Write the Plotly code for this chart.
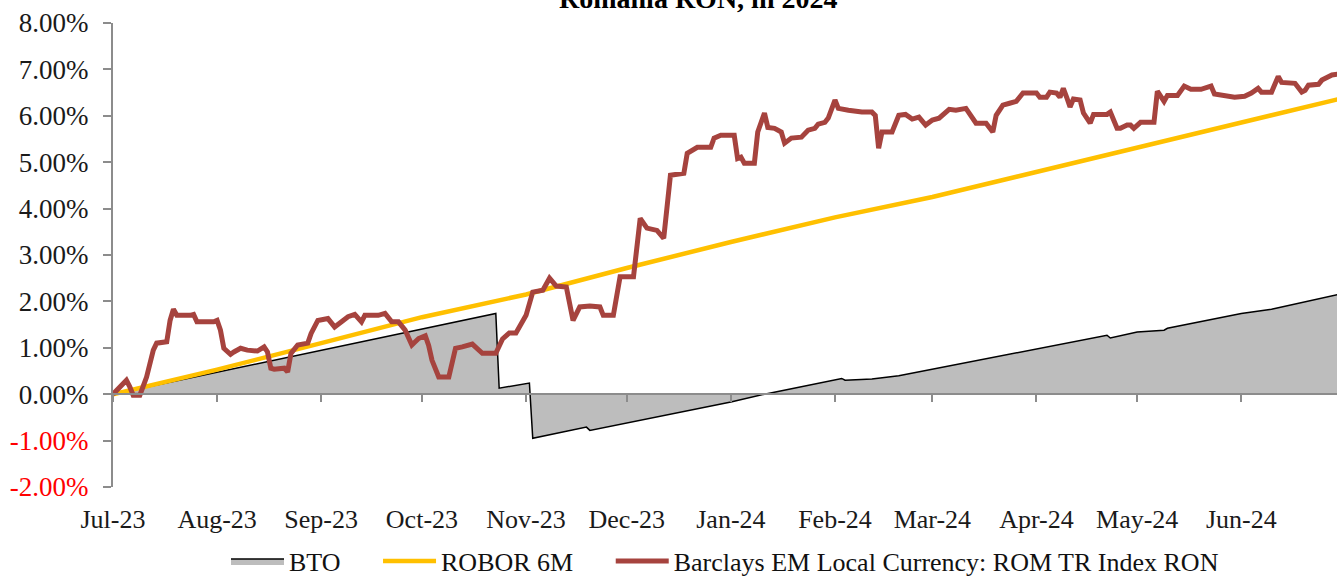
import plotly.graph_objects as go

# ---------------- data (values in %) ----------------
bto_dates = ["2023-07-01", "2023-10-23", "2023-10-24", "2023-11-02", "2023-11-03",
             "2023-11-19", "2023-11-20", "2024-01-01", "2024-01-11", "2024-02-03",
             "2024-02-04", "2024-02-12", "2024-02-20", "2024-03-01", "2024-03-17",
             "2024-04-01", "2024-04-22", "2024-04-23", "2024-05-01", "2024-05-09",
             "2024-05-10", "2024-06-01", "2024-06-10", "2024-06-30"]
bto_vals = [0.00, 1.74, 0.13, 0.24, -0.95,
            -0.71, -0.78, -0.17, 0.00, 0.34,
            0.30, 0.33, 0.40, 0.54, 0.78,
            0.99, 1.27, 1.21, 1.34, 1.38,
            1.42, 1.74, 1.83, 2.15]

robor_dates = ["2023-07-01", "2023-08-01", "2023-09-01", "2023-10-01", "2023-11-01",
               "2023-12-01", "2024-01-01", "2024-02-01", "2024-03-01", "2024-04-01",
               "2024-05-01", "2024-06-01", "2024-06-30"]
robor_vals = [0.00, 0.53, 1.10, 1.66, 2.15,
              2.72, 3.28, 3.81, 4.25, 4.79,
              5.31, 5.84, 6.36]

rom_dates = [
    "2023-07-01", "2023-07-05", "2023-07-06", "2023-07-07", "2023-07-09", "2023-07-11",
    "2023-07-13", "2023-07-14", "2023-07-17", "2023-07-18", "2023-07-19", "2023-07-20",
    "2023-07-24", "2023-07-25", "2023-07-26", "2023-07-31", "2023-08-01", "2023-08-02",
    "2023-08-03", "2023-08-05", "2023-08-06", "2023-08-08", "2023-08-10", "2023-08-13",
    "2023-08-15", "2023-08-16", "2023-08-17", "2023-08-18", "2023-08-21", "2023-08-22",
    "2023-08-23", "2023-08-25", "2023-08-28", "2023-08-29", "2023-08-31", "2023-09-03",
    "2023-09-05", "2023-09-07", "2023-09-09", "2023-09-11", "2023-09-13", "2023-09-14",
    "2023-09-18", "2023-09-20", "2023-09-22", "2023-09-24", "2023-09-26", "2023-09-28",
    "2023-09-30", "2023-10-02", "2023-10-03", "2023-10-04", "2023-10-06", "2023-10-09",
    "2023-10-11", "2023-10-13", "2023-10-16", "2023-10-19", "2023-10-23", "2023-10-25",
    "2023-10-27", "2023-10-29", "2023-11-01", "2023-11-03", "2023-11-06", "2023-11-08",
    "2023-11-10", "2023-11-13", "2023-11-15", "2023-11-17", "2023-11-20", "2023-11-23",
    "2023-11-24", "2023-11-27", "2023-11-29", "2023-12-03", "2023-12-05", "2023-12-07",
    "2023-12-09", "2023-12-10", "2023-12-12", "2023-12-14", "2023-12-18", "2023-12-19",
    "2023-12-22", "2023-12-26", "2023-12-27", "2023-12-29", "2024-01-02", "2024-01-03",
    "2024-01-04", "2024-01-05", "2024-01-08", "2024-01-09", "2024-01-11", "2024-01-12",
    "2024-01-14", "2024-01-16", "2024-01-17", "2024-01-19", "2024-01-22", "2024-01-24",
    "2024-01-26", "2024-01-27", "2024-01-29", "2024-01-30", "2024-02-01", "2024-02-02",
    "2024-02-05", "2024-02-09", "2024-02-12", "2024-02-13", "2024-02-14", "2024-02-15",
    "2024-02-18", "2024-02-20", "2024-02-22", "2024-02-24", "2024-02-26", "2024-02-28",
    "2024-03-01", "2024-03-03", "2024-03-06", "2024-03-08", "2024-03-11", "2024-03-12",
    "2024-03-14", "2024-03-17", "2024-03-19", "2024-03-20", "2024-03-22", "2024-03-24",
    "2024-03-26", "2024-03-28", "2024-03-31", "2024-04-01", "2024-04-02", "2024-04-04",
    "2024-04-05", "2024-04-07", "2024-04-08", "2024-04-09", "2024-04-10", "2024-04-11",
    "2024-04-12", "2024-04-14", "2024-04-15", "2024-04-17", "2024-04-18", "2024-04-22",
    "2024-04-23", "2024-04-25", "2024-04-26", "2024-04-28", "2024-04-29", "2024-04-30",
    "2024-05-02", "2024-05-06", "2024-05-07", "2024-05-09", "2024-05-10", "2024-05-13",
    "2024-05-15", "2024-05-17", "2024-05-20", "2024-05-23", "2024-05-24", "2024-05-28",
    "2024-05-30", "2024-06-02", "2024-06-04", "2024-06-06", "2024-06-07", "2024-06-10",
    "2024-06-12", "2024-06-13", "2024-06-17", "2024-06-19", "2024-06-20", "2024-06-21",
    "2024-06-24", "2024-06-25", "2024-06-28", "2024-06-30"]
rom_vals = [
    0.00, 0.30, 0.16, -0.02, -0.02, 0.37,
    0.95, 1.10, 1.13, 1.59, 1.83, 1.70,
    1.70, 1.72, 1.56, 1.56, 1.59, 1.38,
    0.99, 0.86, 0.91, 0.99, 0.95, 0.93,
    1.02, 0.91, 0.56, 0.54, 0.56, 0.48,
    0.88, 1.06, 1.10, 1.31, 1.59, 1.63,
    1.45, 1.56, 1.67, 1.72, 1.56, 1.70,
    1.70, 1.74, 1.56, 1.56, 1.38, 1.06,
    1.20, 1.26, 1.05, 0.73, 0.37, 0.37,
    0.99, 1.02, 1.08, 0.88, 0.88, 1.19,
    1.32, 1.32, 1.70, 2.20, 2.24, 2.50,
    2.33, 2.31, 1.59, 1.88, 1.90, 1.88,
    1.70, 1.70, 2.53, 2.53, 3.79, 3.58,
    3.53, 3.53, 3.36, 4.72, 4.76, 5.19,
    5.32, 5.32, 5.52, 5.58, 5.58, 5.08,
    5.11, 4.98, 4.98, 5.65, 6.06, 5.75,
    5.73, 5.65, 5.41, 5.52, 5.54, 5.69,
    5.73, 5.82, 5.86, 5.95, 6.34, 6.16,
    6.12, 6.08, 6.08, 6.01, 5.30, 5.65,
    5.65, 6.01, 6.03, 5.93, 5.97, 5.80,
    5.91, 5.95, 6.14, 6.12, 6.16, 6.06,
    5.84, 5.84, 5.65, 6.01, 6.23, 6.27,
    6.31, 6.49, 6.49, 6.49, 6.40, 6.40,
    6.51, 6.49, 6.40, 6.59, 6.40, 6.19,
    6.36, 6.34, 6.06, 5.84, 6.03, 6.03,
    6.08, 5.73, 5.73, 5.80, 5.80, 5.73,
    5.86, 5.86, 6.53, 6.31, 6.44, 6.44,
    6.64, 6.57, 6.57, 6.64, 6.47, 6.44,
    6.40, 6.42, 6.49, 6.59, 6.51, 6.51,
    6.85, 6.72, 6.70, 6.51, 6.55, 6.66,
    6.68, 6.77, 6.88, 6.90]

month_ticks = ["2023-07-01", "2023-08-01", "2023-09-01", "2023-10-01", "2023-11-01",
               "2023-12-01", "2024-01-01", "2024-02-01", "2024-03-01", "2024-04-01",
               "2024-05-01", "2024-06-01"]
month_labels = ["Jul-23", "Aug-23", "Sep-23", "Oct-23", "Nov-23", "Dec-23",
                "Jan-24", "Feb-24", "Mar-24", "Apr-24", "May-24", "Jun-24"]
y_ticks = [-2, -1, 0, 1, 2, 3, 4, 5, 6, 7, 8]

series_names = ["BTO", "ROBOR 6M", "Barclays EM Local Currency: ROM TR Index RON"]
title_text = "Romania RON, in 2024"

# ---------------- figure ----------------
FONT = "Liberation Serif"
GRAY = "#8c8c8c"
NB = "\u00a0"

fig = go.Figure()

fig.add_trace(go.Scatter(
    x=bto_dates, y=bto_vals, name=series_names[0] + NB * 5, mode="lines",
    line=dict(color="black", width=1.5), fill="tozeroy", fillcolor="#bdbdbd"))
fig.add_trace(go.Scatter(
    x=robor_dates, y=robor_vals, name=series_names[1] + NB * 5, mode="lines",
    line=dict(color="#FFC000", width=4.5)))
fig.add_trace(go.Scatter(
    x=rom_dates, y=rom_vals, name=series_names[2],
    mode="lines", line=dict(color="#A6433E", width=5)))
# empty helper trace so the label axis (x2) is drawn
fig.add_trace(go.Scatter(x=[], y=[], xaxis="x2", showlegend=False, hoverinfo="skip"))

def ylab(v):
    s = f"{v:.2f}%"
    if v < 0:
        return f'<span style="color:#ff0000">{s}</span>'
    return s

x_range = ["2023-07-01", "2024-06-29 12:00"]

fig.update_layout(
    width=1337, height=576,
    margin=dict(l=113, r=0, t=23, b=89),
    paper_bgcolor="white", plot_bgcolor="white",
    font=dict(family=FONT, size=26, color="#1a1a1a"),
    showlegend=True,
    legend=dict(orientation="h", x=0.5, xanchor="center",
                yref="container", y=1 - 561 / 576, yanchor="middle",
                font=dict(family=FONT, size=26, color="#111111"),
                itemwidth=53, traceorder="normal"),
    # axis at zero with month tick marks
    xaxis=dict(type="date", range=x_range, domain=[0, 1], anchor="free", position=0.2,
               tickvals=month_ticks, showticklabels=False,
               showline=True, linecolor=GRAY, linewidth=2,
               ticks="outside", ticklen=7, tickwidth=2, tickcolor=GRAY,
               showgrid=False, zeroline=False),
    # label axis at the bottom
    xaxis2=dict(type="date", overlaying="x", matches="x", range=x_range, anchor="y",
                tickvals=month_ticks, ticktext=month_labels,
                showline=False, ticks="", showgrid=False, zeroline=False,
                ticklabelstandoff=14,
                tickfont=dict(family=FONT, size=26, color="#1a1a1a")),
    yaxis=dict(range=[-2, 8], tickvals=y_ticks, ticktext=[ylab(v) for v in y_ticks],
               showline=True, linecolor=GRAY, linewidth=2,
               ticks="outside", ticklen=8, tickwidth=2, tickcolor=GRAY,
               showgrid=False, zeroline=False, ticklabelstandoff=9,
               tickfont=dict(family=FONT, size=27, color="#1a1a1a")),
    annotations=[dict(text=f"<b>{title_text}</b>", xref="paper", yref="paper",
                      x=0.478, y=1.015, xanchor="center", yanchor="bottom",
                      showarrow=False, font=dict(family=FONT, size=28, color="black"))],
)

fig.write_html("out.html", config={"displayModeBar": False},
               post_script="document.body.style.margin='0';")
